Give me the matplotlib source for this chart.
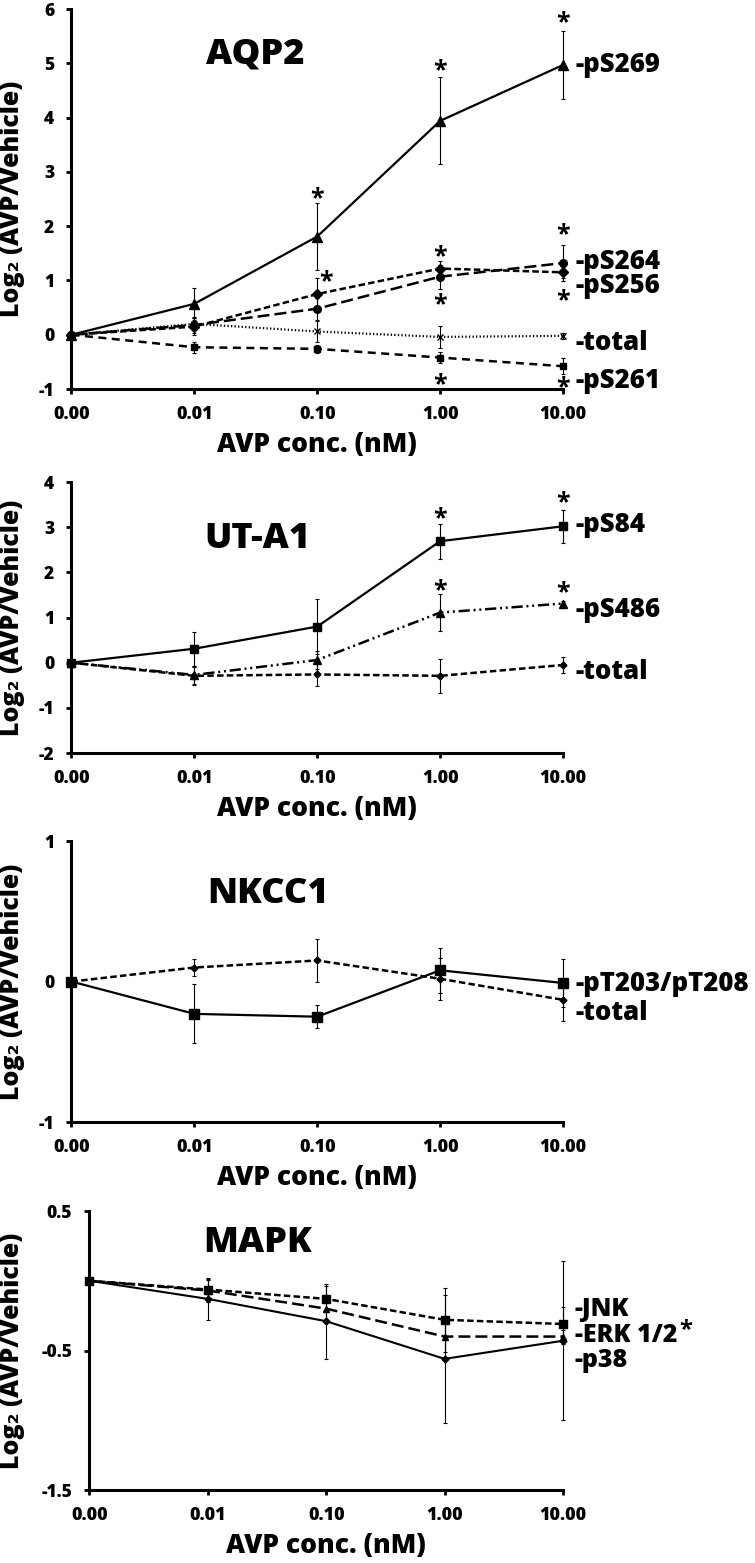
import matplotlib
matplotlib.use("Agg")
import matplotlib.pyplot as plt
import numpy as np

plt.rcParams["font.family"] = ["Open Sans", "DejaVu Sans"]
plt.rcParams["font.weight"] = "bold"
plt.rcParams["axes.unicode_minus"] = False

HEAVY = 800

x_labels = ["0.00", "0.01", "0.10", "1.00", "10.00"]

# AQP2
aqp2_pS269 = [0, 0.57, 1.81, 3.94, 4.97]
aqp2_pS269_err = [0, 0.30, 0.61, 0.80, 0.63]
aqp2_pS264 = [0, 0.18, 0.48, 1.07, 1.32]
aqp2_pS264_err = [0, 0.15, 0.20, 0.22, 0.33]
aqp2_pS256 = [0, 0.15, 0.75, 1.22, 1.15]
aqp2_pS256_err = [0, 0.15, 0.30, 0.14, 0.10]
aqp2_total = [0, 0.20, 0.06, -0.04, -0.02]
aqp2_total_err = [0, 0.10, 0.20, 0.21, 0.05]
aqp2_pS261 = [0, -0.23, -0.26, -0.42, -0.58]
aqp2_pS261_err = [0, 0.10, 0.07, 0.10, 0.15]
aqp2_star_x = [2, 3, 4, 2.07, 3, 3, 4, 4, 3, 4]
aqp2_star_y = [2.66, 5.02, 5.90, 1.13, 1.59, 0.70, 1.99, 0.78, -0.77, -0.83]

# UT-A1
ut_pS84 = [0, 0.31, 0.80, 2.69, 3.02]
ut_pS84_err = [0, 0.38, 0.60, 0.39, 0.36]
ut_pS486 = [0, -0.27, 0.06, 1.11, 1.31]
ut_pS486_err = [0, 0.20, 0.20, 0.41, 0.05]
ut_total = [0, -0.29, -0.26, -0.29, -0.05]
ut_total_err = [0, 0.20, 0.25, 0.37, 0.17]
ut_star_x = [3, 4, 3, 4]
ut_star_y = [3.37, 3.73, 1.78, 1.72]

# NKCC1
nk_pT = [0, -0.23, -0.25, 0.08, -0.01]
nk_pT_err = [0, 0.21, 0.08, 0.16, 0.17]
nk_total = [0, 0.10, 0.15, 0.02, -0.13]
nk_total_err = [0, 0.06, 0.15, 0.15, 0.15]

# MAPK
mapk_jnk = [0, -0.063, -0.13, -0.28, -0.31]
mapk_jnk_err = [0, 0.07, 0.09, 0.23, 0.12]
mapk_erk = [0, -0.07, -0.20, -0.40, -0.40]
mapk_erk_err = [0, 0.08, 0.10, 0.15, 0.05]
mapk_p38 = [0, -0.13, -0.29, -0.56, -0.43]
mapk_p38_err = [0, 0.15, 0.27, 0.46, 0.57]

# dash patterns (in linewidth units)
SOLID = "-"
LONG_DASH = (0, (4.8, 2.0))
MED_DASH = (0, (3.2, 2.2))
SHORT_DASH = (0, (2.6, 1.3))
DOTTED = (0, (0.6, 1.0))
DASH_DOT_DOT = (0, (4.5, 1.5, 0.8, 1.5, 0.8, 1.5))


def plot_series(ax, y, err, marker, ms, ls, lw=1.8):
    x = np.arange(len(y))
    ax.errorbar(x, y, yerr=err, color="black", ecolor="black", elinewidth=0.8,
                capsize=1.5, capthick=0.8, marker=marker, markersize=ms,
                linestyle=ls, linewidth=lw, clip_on=False, zorder=3)


def side_label(ax, y, text, size=18.5):
    return ax.text(4.1, y, text, fontsize=size, fontweight=HEAVY, ha="left",
                   va="center", clip_on=False)


def stars(ax, xs, ys):
    for x, y in zip(xs, ys):
        ax.annotate("*", xy=(x, y), xytext=(0, -10.5), textcoords="offset points",
                    ha="center", va="baseline", fontsize=18, fontweight="bold",
                    annotation_clip=False)


def setup_axes(ax, ylim, yticks, title, title_pos, ylab_x):
    ax.set_xlim(0, 4)
    ax.set_ylim(*ylim)
    ax.set_xticks(range(5))
    ax.set_xticklabels(x_labels, fontsize=13, fontweight=HEAVY)
    ax.set_yticks(yticks)
    ax.set_yticklabels([f"{t:g}" for t in yticks], fontsize=12.5, fontweight=HEAVY)
    for s in ["top", "right"]:
        ax.spines[s].set_visible(False)
    for s in ["left", "bottom"]:
        ax.spines[s].set_linewidth(2.2)
    ax.tick_params(axis="both", direction="out", width=2, length=3.5)
    ax.tick_params(axis="x", pad=9)
    ax.tick_params(axis="y", pad=9)
    ax.set_xlabel("AVP conc. (nM)", fontsize=19, fontweight=HEAVY, labelpad=6)
    ax.text(ylab_x, 0.5, "Log₂ (AVP/Vehicle)", transform=ax.transAxes, rotation=90,
            ha="center", va="center", fontsize=18, fontweight=HEAVY)
    ax.text(title_pos[0], title_pos[1], title, transform=ax.transAxes, ha="center",
            va="center", fontsize=26, fontweight=HEAVY)


fig = plt.figure(figsize=(7.55, 15.63), dpi=100)

# ---- AQP2 ----
ax1 = fig.add_axes([0.0947, 0.7511, 0.651, 0.2431])
setup_axes(ax1, (-1, 6), range(-1, 7), "AQP2", (0.373, 0.88), -0.121)
plot_series(ax1, aqp2_total, aqp2_total_err, "x", 5, DOTTED, lw=1.6)
plot_series(ax1, aqp2_pS261, aqp2_pS261_err, "s", 5, MED_DASH)
plot_series(ax1, aqp2_pS264, aqp2_pS264_err, "o", 5.5, LONG_DASH)
plot_series(ax1, aqp2_pS256, aqp2_pS256_err, "D", 5, SHORT_DASH)
plot_series(ax1, aqp2_pS269, aqp2_pS269_err, "^", 7, SOLID, lw=1.6)
stars(ax1, aqp2_star_x, aqp2_star_y)
side_label(ax1, aqp2_pS269[-1], "-pS269")
side_label(ax1, 1.34, "-pS264")
side_label(ax1, 0.90, "-pS256")
side_label(ax1, -0.15, "-total")
side_label(ax1, -0.86, "-pS261")

# ---- UT-A1 ----
ax2 = fig.add_axes([0.0947, 0.5182, 0.651, 0.1734])
setup_axes(ax2, (-2, 4), range(-2, 5), "UT-A1", (0.379, 0.79), -0.121)
plot_series(ax2, ut_total, ut_total_err, "D", 3.5, SHORT_DASH)
plot_series(ax2, ut_pS486, ut_pS486_err, "^", 6, DASH_DOT_DOT)
plot_series(ax2, ut_pS84, ut_pS84_err, "s", 6, SOLID, lw=1.6)
stars(ax2, ut_star_x, ut_star_y)
side_label(ax2, 3.05, "-pS84")
side_label(ax2, 1.17, "-pS486")
side_label(ax2, -0.2, "-total")

# ---- NKCC1 ----
ax3 = fig.add_axes([0.0947, 0.2821, 0.651, 0.1798])
setup_axes(ax3, (-1, 1), [-1, 0, 1], "NKCC1", (0.40, 0.81), -0.121)
plot_series(ax3, nk_total, nk_total_err, "D", 3.5, SHORT_DASH)
plot_series(ax3, nk_pT, nk_pT_err, "s", 7, SOLID, lw=1.6)
side_label(ax3, -0.015, "-pT203/pT208")
side_label(ax3, -0.225, "-total")

# ---- MAPK ----
ax4 = fig.add_axes([0.1184, 0.0467, 0.6273, 0.1785])
setup_axes(ax4, (-1.5, 0.5), [-1.5, -0.5, 0.5], "MAPK", (0.356, 0.885), -0.163)
plot_series(ax4, mapk_p38, mapk_p38_err, "D", 3.5, SOLID, lw=1.5)
plot_series(ax4, mapk_erk, mapk_erk_err, "^", 5, LONG_DASH)
plot_series(ax4, mapk_jnk, mapk_jnk_err, "s", 5.5, SHORT_DASH)
side_label(ax4, -0.205, "-JNK", 18)
erk_txt = side_label(ax4, -0.395, "-ERK 1/2", 18)
ax4.annotate("*", xy=(1, 1), xytext=(1.5, -9), xycoords=erk_txt,
             textcoords="offset points", ha="left", va="baseline",
             fontsize=17, fontweight="bold")
side_label(ax4, -0.575, "-p38", 18)

fig.savefig("out.png", dpi=100)
